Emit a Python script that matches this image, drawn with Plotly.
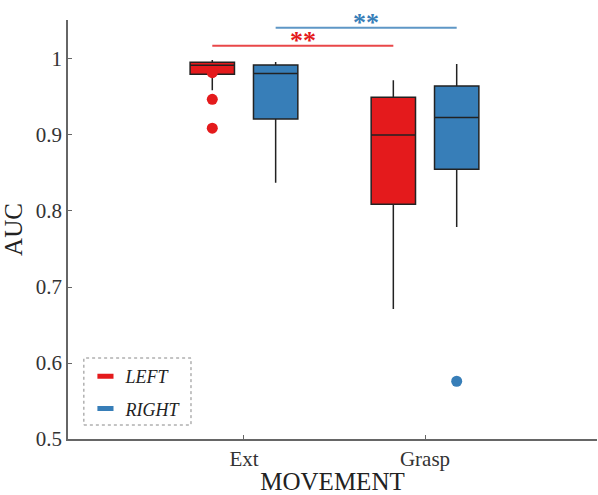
import plotly.graph_objects as go

# AUC distributions per movement and hand (box statistics)
movements = ["Ext", "Grasp"]

left_q1 = [0.980, 0.809]
left_median = [0.9917, 0.900]
left_q3 = [0.9957, 0.9496]
left_lower = [0.959, 0.671]
left_upper = [0.9987, 0.972]
left_outlier_x = ["Ext", "Ext", "Ext"]
left_outlier_y = [0.982, 0.947, 0.909]

right_q1 = [0.921, 0.855]
right_median = [0.981, 0.923]
right_q3 = [0.992, 0.9645]
right_lower = [0.837, 0.779]
right_upper = [0.996, 0.9934]
right_outlier_x = ["Grasp"]
right_outlier_y = [0.576]

# significance brackets: (y level, label)
sig_left = (1.0175, "**")
sig_right = (1.041, "**")

RED = "#e41a1c"
BLUE = "#377eb8"
EDGE = "#222222"
SERIF = "Liberation Serif, Times New Roman, serif"
BOXGAP = 0.3
BOXGROUPGAP = 0.3

fig = go.Figure()

for name, color, q1, med, q3, lo, hi, og in [
    ("LEFT", RED, left_q1, left_median, left_q3, left_lower, left_upper, "L"),
    ("RIGHT", BLUE, right_q1, right_median, right_q3, right_lower, right_upper, "R"),
]:
    fig.add_trace(go.Box(
        x=movements, q1=q1, median=med, q3=q3, lowerfence=lo, upperfence=hi,
        name=name, offsetgroup=og, fillcolor=color, whiskerwidth=0,
        line=dict(color=EDGE, width=1.5), boxpoints=False, showlegend=False,
    ))

for color, xs, ys, og in [
    (RED, left_outlier_x, left_outlier_y, "L"),
    (BLUE, right_outlier_x, right_outlier_y, "R"),
]:
    fig.add_trace(go.Scatter(
        x=xs, y=ys, mode="markers", offsetgroup=og, showlegend=False,
        marker=dict(color=color, size=11, line=dict(width=0)),
    ))

# legend entries drawn as short thick dashes
for name, color, og in [("LEFT", RED, "L"), ("RIGHT", BLUE, "R")]:
    fig.add_trace(go.Scatter(
        x=[None], y=[None], mode="markers", name=f"<i>{name}</i>",
        offsetgroup=og, legendgroup=og,
        marker=dict(symbol="line-ew", size=11.5, color=color,
                    line=dict(width=5, color=color)),
    ))

# group offsets on the category axis, same rule as boxmode="group"
half = (1 - BOXGAP) / 4
idx = {m: i for i, m in enumerate(movements)}
for (yv, label), color, off in [(sig_left, RED, -half), (sig_right, BLUE, half)]:
    x0 = idx["Ext"] + off
    x1 = idx["Grasp"] + off
    fig.add_shape(type="line", xref="x", yref="y", x0=x0, x1=x1, y0=yv, y1=yv,
                  line=dict(color=color, width=2), opacity=0.8)
    fig.add_annotation(x=(x0 + x1) / 2, y=yv, xref="x", yref="y", text=f"<b>{label}</b>",
                       showarrow=False, yanchor="middle", yshift=5,
                       font=dict(family=SERIF, size=26, color=color))

# dotted frame around the legend
fig.add_shape(type="rect", xref="paper", yref="paper",
              x0=0.030, x1=0.2325, y0=0.0334, y1=0.1933,
              line=dict(color="#888888", width=1, dash="dot"), fillcolor="rgba(0,0,0,0)")

axis_common = dict(
    showgrid=False, zeroline=False, showline=True, linecolor="#666666", linewidth=1.5,
    ticks="inside", ticklen=4, tickcolor="#666666", tickwidth=1.2,
    tickfont=dict(family=SERIF, size=21, color="#333333"),
)

fig.update_layout(
    width=598, height=495,
    margin=dict(l=68, r=1, t=20, b=56),
    paper_bgcolor="white", plot_bgcolor="white",
    boxmode="group", boxgap=BOXGAP, boxgroupgap=BOXGROUPGAP,
    scattermode="group", scattergap=BOXGAP,
    xaxis=dict(type="category", categoryorder="array", categoryarray=movements,
               range=[-0.972, 1.95],
               title=dict(text="MOVEMENT", font=dict(family=SERIF, size=25, color="#222222"), standoff=4),
               **axis_common),
    yaxis=dict(range=[0.5, 1.0513], tickvals=[0.5, 0.6, 0.7, 0.8, 0.9, 1.0],
               ticktext=["0.5", "0.6", "0.7", "0.8", "0.9", "1"],
               title=dict(text="AUC", font=dict(family=SERIF, size=25, color="#222222"), standoff=6),
               **axis_common),
    legend=dict(x=0.033, y=0.1933, xanchor="left", yanchor="top",
                bgcolor="rgba(0,0,0,0)", borderwidth=0,
                traceorder="grouped", tracegroupgap=6,
                font=dict(family=SERIF, size=18, color="#222222")),
)

fig.write_html("out.html")
